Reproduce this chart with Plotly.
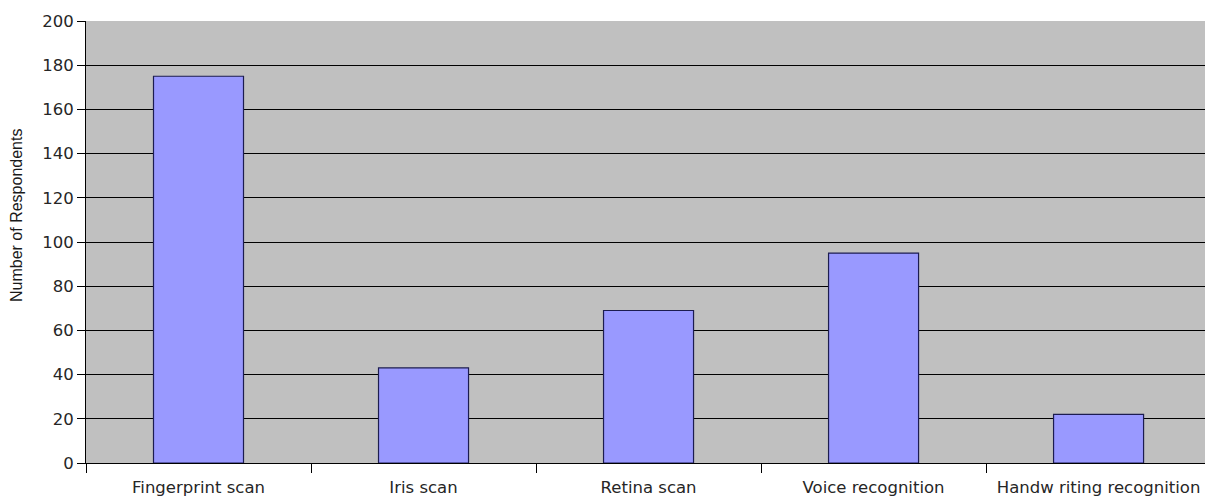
import plotly.graph_objects as go

categories = ["Fingerprint scan", "Iris scan", "Retina scan", "Voice recognition", "Handw riting recognition"]
values = [175, 43, 69, 95, 22]
y_ticks = [0, 20, 40, 60, 80, 100, 120, 140, 160, 180, 200]
y_title = "Number of Respondents"

fig = go.Figure(go.Bar(
    x=categories, y=values,
    marker=dict(color="#9999FF", line=dict(color="#1c1c50", width=1.2)),
    width=0.4,
))

fig.update_layout(
    width=1205, height=501,
    margin=dict(l=86, r=0, t=21, b=38),
    paper_bgcolor="white",
    plot_bgcolor="#C0C0C0",
    font=dict(family="DejaVu Sans, Liberation Sans, sans-serif", size=16.5, color="#262626"),
    showlegend=False,
    bargap=0.6,
)
fig.add_annotation(
    text=y_title, textangle=-90, showarrow=False,
    xref="paper", yref="paper", x=-0.0626, y=0.561,
    xanchor="center", yanchor="middle",
    font=dict(family="Liberation Sans, Arial, sans-serif", size=16, color="#1a1a1a"),
)
fig.update_xaxes(
    type="category",
    range=[-0.5, 4.473],
    tickson="boundaries",
    ticks="outside", ticklen=9, tickcolor="black",
    ticklabelstandoff=9,
    showline=True, linecolor="black", linewidth=1,
    showgrid=False,
    tickfont=dict(size=16.5),
)
fig.update_yaxes(
    range=[0, 200],
    tickvals=y_ticks,
    ticks="outside", ticklen=8, tickcolor="black",
    showline=True, linecolor="black", linewidth=1,
    showgrid=True, gridcolor="black", gridwidth=1,
    zeroline=False,
    tickfont=dict(size=16.5),
)

fig.write_html("out.html", config={"displayModeBar": False},
               post_script="document.body.style.margin='0';")
